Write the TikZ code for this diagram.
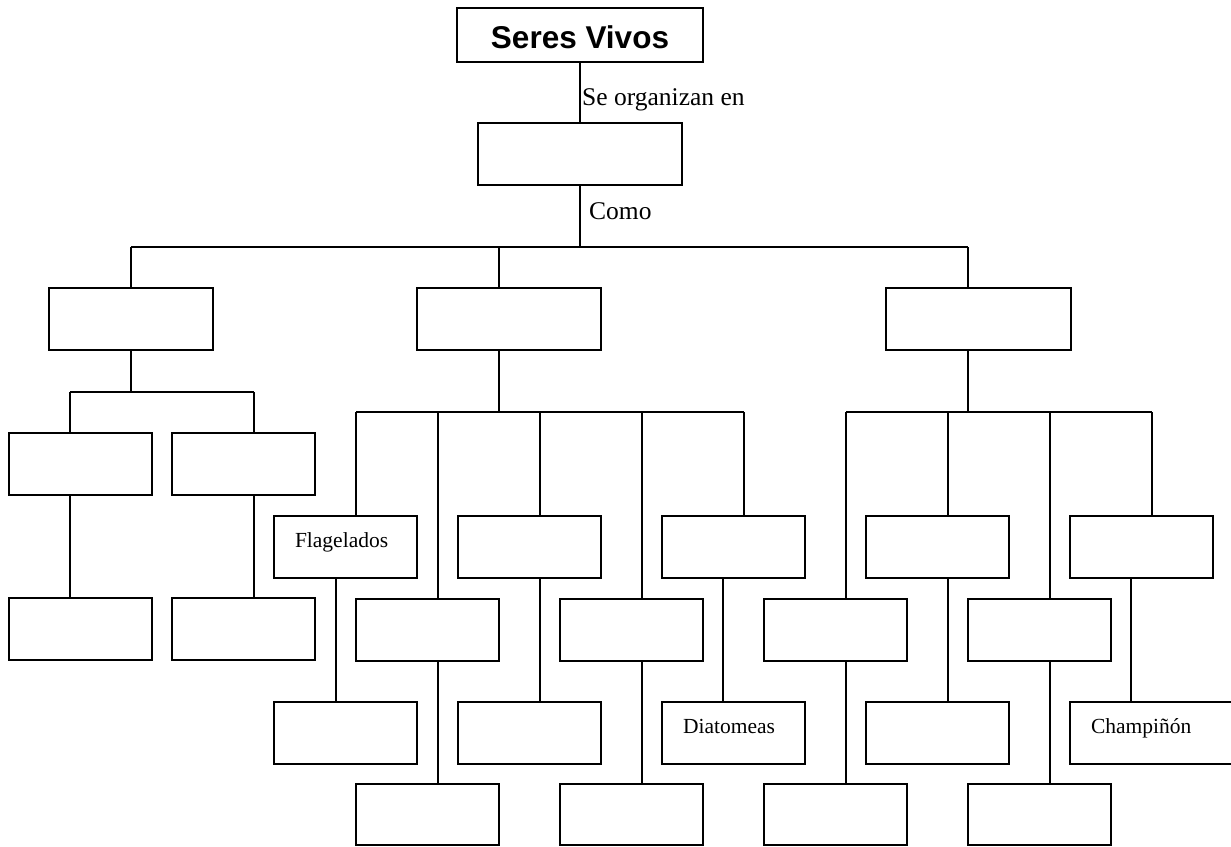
\documentclass[tikz,border=0pt]{standalone}
\usepackage{fontspec}
\setmainfont{Liberation Serif}
\newfontfamily\arialfont{Liberation Sans}
\begin{document}
\begin{tikzpicture}[x=1pt,y=-1pt,
  box/.style={draw, line width=1.2pt, minimum height=62pt, inner sep=0pt, outer sep=0pt, anchor=north west},
  lastrow/.style={minimum height=61pt},
  conn/.style={line width=1.2pt},
  lbl/.style={font=\fontsize{21.5}{24}\selectfont, text height=0pt, text depth=0pt, align=left, inner xsep=21pt},
  rel/.style={font=\fontsize{25.5}{30}\selectfont, anchor=base west, inner sep=0pt}]
\useasboundingbox (0,0) rectangle (1231,846);
\clip (0,0) rectangle (1231,846);

% top
\node[box, minimum width=246pt, minimum height=54pt, font=\arialfont\bfseries\fontsize{31.5}{36}\selectfont, text height=26pt, text depth=0pt] (sv) at (457,8) {Seres Vivos};
\node[box, minimum width=204pt] (org) at (478,123) {};
\draw[conn] (sv.south) -- (org.north);
\node[rel] (t1) at (582,105) {Se organizan en};
\node[rel] (t2) at (589,219) {Como};

% level 2
\node[box, minimum width=164pt] (a) at (49,288) {};
\node[box, minimum width=184pt] (b) at (417,288) {};
\node[box, minimum width=185pt] (c) at (886,288) {};
\coordinate (bus) at (580,247);
\coordinate (ha) at (131,247);
\coordinate (hb) at (499,247);
\coordinate (hc) at (968,247);
\draw[conn] (org.south) -- (bus);
\draw[conn] (ha) -- (hc);
\draw[conn] (ha) -- (ha |- a.north);
\draw[conn] (hb) -- (hb |- b.north);
\draw[conn] (hc) -- (hc |- c.north);

% left subtree
\coordinate (la) at (131,392);
\coordinate (la1) at (70,392);
\coordinate (la2) at (254,392);
\draw[conn] (a.south) -- (la);
\draw[conn] (la1) -- (la2);
\node[box, minimum width=143pt] (a1) at (9,433) {};
\node[box, minimum width=143pt] (a2) at (172,433) {};
\node[box, minimum width=143pt] (a1b) at (9,598) {};
\node[box, minimum width=143pt] (a2b) at (172,598) {};
\draw[conn] (la1) -- (la1 |- a1.north);
\draw[conn] (la2) -- (la2 |- a2.north);
\draw[conn] (a1.south -| la1) -- (a1b.north -| la1);
\draw[conn] (a2.south -| la2) -- (a2b.north -| la2);

% middle subtree
\coordinate (mb) at (499,412);
\coordinate (m1) at (356,412);
\coordinate (m2) at (438,412);
\coordinate (m3) at (540,412);
\coordinate (m4) at (642,412);
\coordinate (m5) at (744,412);
\coordinate (k1) at (336,0);
\coordinate (k5) at (723,0);
\draw[conn] (b.south -| mb) -- (mb);
\draw[conn] (m1) -- (m5);
\node[box, lbl, minimum width=143pt, text width=101pt] (fl) at (274,516) {Flagelados};
\node[box, minimum width=143pt] (fl2) at (274,702) {};
\node[box, minimum width=143pt] (m2a) at (356,599) {};
\node[box, lastrow, minimum width=143pt] (m2b) at (356,784) {};
\node[box, minimum width=143pt] (m3a) at (458,516) {};
\node[box, minimum width=143pt] (m3b) at (458,702) {};
\node[box, minimum width=143pt] (m4a) at (560,599) {};
\node[box, lastrow, minimum width=143pt] (m4b) at (560,784) {};
\node[box, minimum width=143pt] (m5a) at (662,516) {};
\node[box, lbl, minimum width=143pt, text width=101pt] (dia) at (662,702) {Diatomeas};
\draw[conn] (m1) -- (m1 |- fl.north);
\draw[conn] (fl.south -| k1) -- (fl2.north -| k1);
\draw[conn] (m2) -- (m2 |- m2a.north);
\draw[conn] (m2a.south -| m2) -- (m2b.north -| m2);
\draw[conn] (m3) -- (m3 |- m3a.north);
\draw[conn] (m3a.south -| m3) -- (m3b.north -| m3);
\draw[conn] (m4) -- (m4 |- m4a.north);
\draw[conn] (m4a.south -| m4) -- (m4b.north -| m4);
\draw[conn] (m5) -- (m5 |- m5a.north);
\draw[conn] (m5a.south -| k5) -- (dia.north -| k5);

% right subtree
\coordinate (rb) at (968,412);
\coordinate (r1) at (846,412);
\coordinate (r2) at (948,412);
\coordinate (r3) at (1050,412);
\coordinate (r4) at (1152,412);
\coordinate (k4) at (1131,0);
\draw[conn] (c.south -| rb) -- (rb);
\draw[conn] (r1) -- (r4);
\node[box, minimum width=143pt] (r1a) at (764,599) {};
\node[box, lastrow, minimum width=143pt] (r1b) at (764,784) {};
\node[box, minimum width=143pt] (r2a) at (866,516) {};
\node[box, minimum width=143pt] (r2b) at (866,702) {};
\node[box, minimum width=143pt] (r3a) at (968,599) {};
\node[box, lastrow, minimum width=143pt] (r3b) at (968,784) {};
\node[box, minimum width=143pt] (r4a) at (1070,516) {};
\node[box, lbl, minimum width=180pt, text width=138pt] (cha) at (1070,702) {Champiñón};
\draw[conn] (r1) -- (r1 |- r1a.north);
\draw[conn] (r1a.south -| r1) -- (r1b.north -| r1);
\draw[conn] (r2) -- (r2 |- r2a.north);
\draw[conn] (r2a.south -| r2) -- (r2b.north -| r2);
\draw[conn] (r3) -- (r3 |- r3a.north);
\draw[conn] (r3a.south -| r3) -- (r3b.north -| r3);
\draw[conn] (r4) -- (r4 |- r4a.north);
\draw[conn] (r4a.south -| k4) -- (cha.north -| k4);
\end{tikzpicture}
\end{document}
